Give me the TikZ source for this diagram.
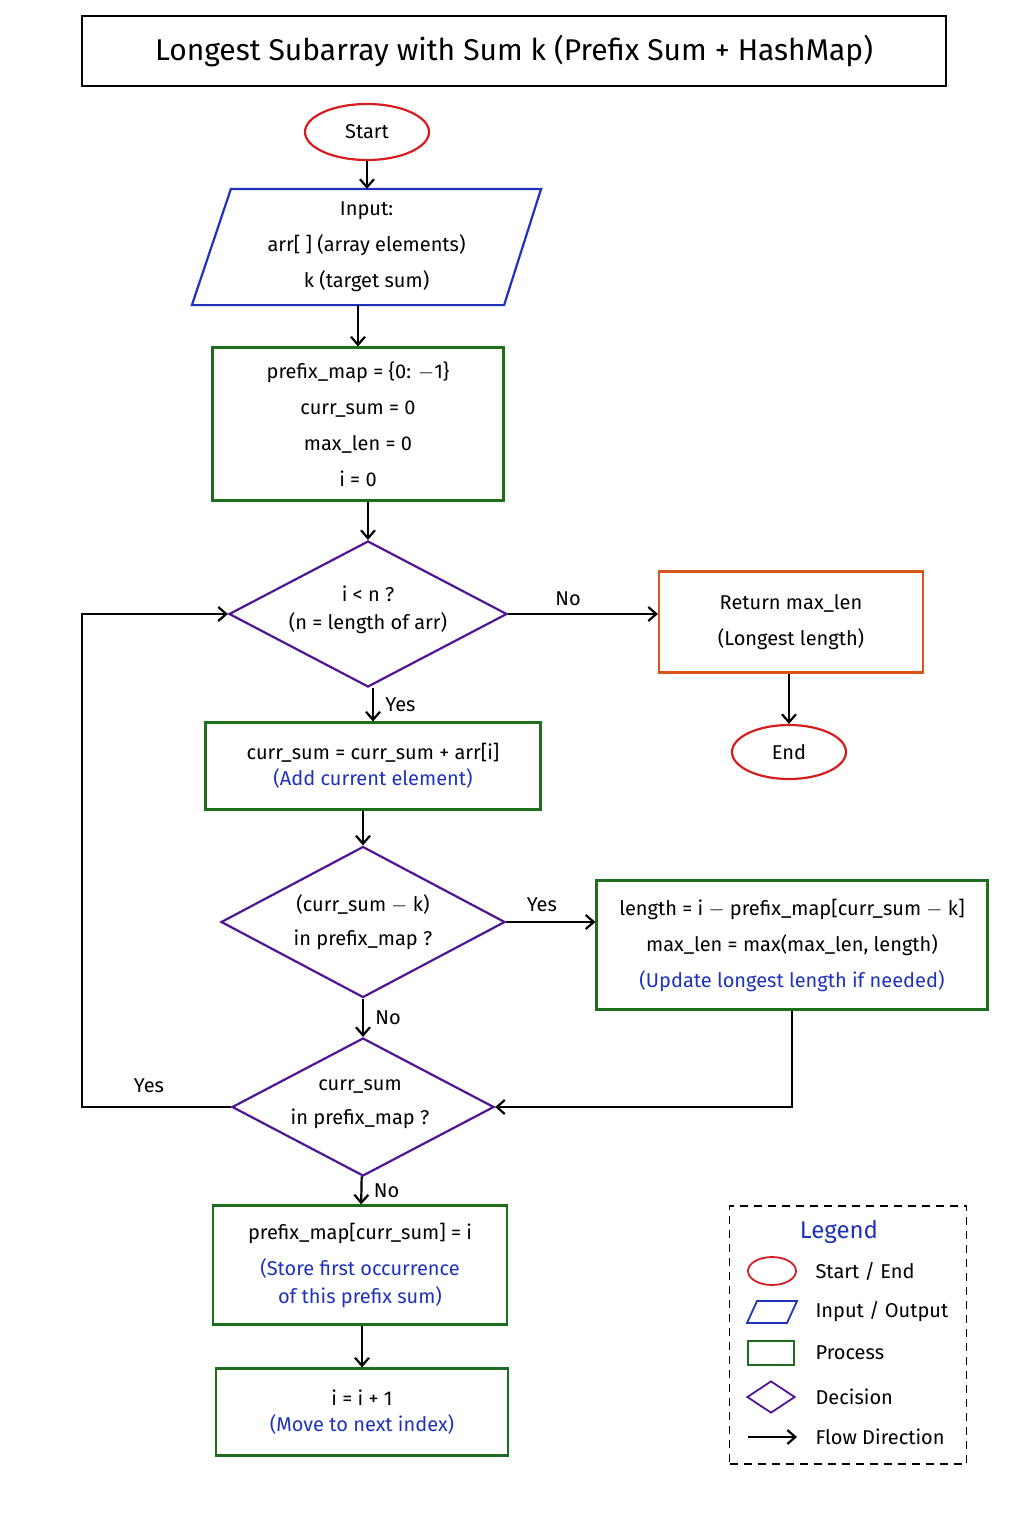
\documentclass[tikz,border=0pt]{standalone}
\usepackage{fontspec}
\setmainfont{Fira Sans}
\usetikzlibrary{shapes.geometric,arrows.meta,positioning}
\definecolor{cRed}{RGB}{215,30,30}
\definecolor{cBlue}{RGB}{30,50,190}
\definecolor{cGreen}{RGB}{30,110,30}
\definecolor{cPurple}{RGB}{80,20,150}
\definecolor{cOrange}{RGB}{215,85,25}
\tikzset{
  base/.style = {font=\fontsize{20}{36}\selectfont, align=center, line width=2.2pt, inner sep=0pt},
  term/.style = {base, draw=cRed, ellipse},
  proc/.style = {base, draw=cGreen, rectangle},
  io/.style = {base, rectangle},
  dec/.style = {line width=2.2pt, draw=cPurple, diamond, inner sep=0pt},
  result/.style = {base, draw=cOrange, rectangle},
  flow/.style = {line width=2.2pt, -{Straight Barb[length=8pt,width=14pt]}},
  lbl/.style = {font=\fontsize{20}{24}\selectfont},
  note/.style = {text=cBlue}
}
\begin{document}
\begin{tikzpicture}[x=1pt,y=-1pt]
  \useasboundingbox (0,0) rectangle (1024,1536);
  % title
  \node[base, draw, minimum width=864, minimum height=70, font=\fontsize{30}{36}\selectfont] (title) at (514,51)
    {Longest Subarray with Sum k (Prefix Sum + HashMap)};
  \node[term, minimum width=124, minimum height=56] (start) at (367,132) {Start};
  \node[io, minimum width=347, minimum height=114] (input) at (366.5,247)
    {Input:\\arr[ ] (array elements)\\k (target sum)};
  \draw[line width=2.2pt, cBlue] ([xshift=39]input.north west) -- (input.north east)
    -- ([xshift=-37]input.south east) -- (input.south west) -- cycle;
  \node[proc, minimum width=291, minimum height=153] (init) at (358,424)
    {prefix\_map = \{0: $-$1\}\\curr\_sum = 0\\max\_len = 0\\i = 0};
  % first decision
  \node[dec, minimum width=278, minimum height=146] (loop) at (368,614) {};
  \node[lbl, align=center] (loopt) at (368,610) {i < n ?\\[4pt](n = length of arr)};
  \node[result, minimum width=264, minimum height=101] (ret) at (791,622)
    {Return max\_len\\(Longest length)};
  \node[term, minimum width=114, minimum height=54] (end) at (789,752) {End};
  \node[proc, minimum width=335, minimum height=87] (add) at (373,766)
    {curr\_sum = curr\_sum + arr[i]\\[-10pt]\textcolor{cBlue}{(Add current element)}};
  % second decision
  \node[dec, minimum width=284, minimum height=151] (chk) at (363,922) {};
  \node[lbl, align=center] (chkt) at (363,922) {(curr\_sum $-$ k)\\[10pt]in prefix\_map ?};
  \node[proc, minimum width=391, minimum height=129] (upd) at (792,945)
    {length = i $-$ prefix\_map[curr\_sum $-$ k]\\max\_len = max(max\_len, length)\\\textcolor{cBlue}{(Update longest length if needed)}};
  % third decision
  \node[dec, minimum width=262, minimum height=138] (seen) at (363,1107) {};
  \node[lbl, align=center] (seent) at (360,1104) {curr\_sum\\[10pt]in prefix\_map ?};
  \node[proc, minimum width=294, minimum height=119] (store) at (360,1265)
    {prefix\_map[curr\_sum] = i\\\textcolor{cBlue}{(Store first occurrence}\\[-8pt]\textcolor{cBlue}{of this prefix sum)}};
  \node[proc, minimum width=292, minimum height=87] (inc) at (362,1412)
    {i = i + 1\\[-10pt]\textcolor{cBlue}{(Move to next index)}};
  % connectors
  \draw[flow] (start) -- (start |- input.north);
  \draw[flow] (input.south -| init) -- (init);
  \draw[flow] (init.south -| loop) -- (loop);
  \draw[flow] (loop.east) -- node[lbl, above, pos=0.4, yshift=4] {No} (ret.west |- loop.east);
  \draw[flow] (ret.south -| end) -- (end);
  \draw[flow] (loop.south -| add) -- node[lbl, right, pos=0.5, xshift=8] {Yes} (add);
  \draw[flow] (add.south -| chk) -- (chk);
  \draw[flow] (chk.east) -- node[lbl, above, pos=0.4, yshift=6] {Yes} (upd.west |- chk.east);
  \draw[flow] (chk) -- node[lbl, right, xshift=8] {No} (seen);
  \coordinate (bend) at (upd.south |- seen.east);
  \draw[flow] (upd.south) -- (bend) -- (seen.east);
  \coordinate (lb) at (82,1107);
  \coordinate (lt) at (82,614);
  \draw[flow] (seen.west) -- node[lbl, above, pos=0.55, yshift=10] {Yes} (lb) -- (lt) -- (loop.west);
  \draw[flow] (seen) -- node[lbl, right, xshift=8] {No} (store);
  \draw[flow] (store.south -| inc) -- (inc);
  % legend
  \node[draw, dashed, line width=1.4pt, minimum width=237, minimum height=258, dash pattern=on 8pt off 6pt] (leg) at (848,1335) {};
  \node[lbl, text=cBlue, font=\fontsize{24}{28}\selectfont] (legt) at (839,1232) {Legend};
  \node[draw=cRed, ellipse, line width=1.8pt, minimum width=48, minimum height=28] (k1) at (772,1271) {};
  \node[lbl, right] (t1) at (812,1271) {Start / End};
  \draw[cBlue, line width=1.8pt] (757,1301) -- (797,1301) -- (787,1323) -- (747,1323) -- cycle;
  \coordinate (k2) at (772,1312);
  \node[lbl, right] (t2) at (812,1312) {Input / Output};
  \node[draw=cGreen, line width=1.8pt, minimum width=46, minimum height=24] (k3) at (771,1353) {};
  \node[lbl, right] (t3) at (812,1353) {Process};
  \node[draw=cPurple, diamond, line width=1.8pt, minimum width=48, minimum height=32, inner sep=0pt] (k4) at (771,1397) {};
  \node[lbl, right] (t4) at (812,1397) {Decision};
  \coordinate (k5a) at (748,1437);
  \coordinate (k5b) at (797,1437);
  \draw[flow] (k5a) -- (k5b);
  \node[lbl, right] (t5) at (812,1437) {Flow Direction};
\end{tikzpicture}
\end{document}
